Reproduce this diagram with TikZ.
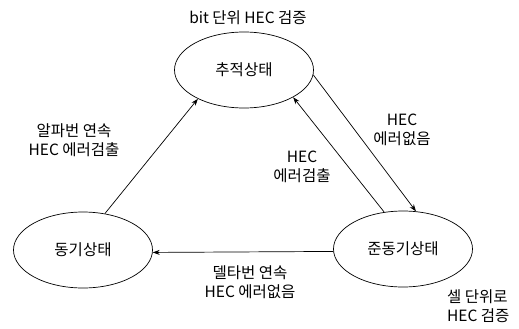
\documentclass[tikz,border=0pt]{standalone}
\usepackage{fontspec}
\setmainfont{Noto Sans CJK KR}
\usetikzlibrary{shapes.geometric,arrows.meta}
\begin{document}
\begin{tikzpicture}[x=1pt,y=-1pt,
  st/.style={draw, ellipse, line width=0.7pt, minimum width=139pt, minimum height=76pt, inner sep=0pt, font=\fontsize{15.5}{18}\selectfont},
  lbl/.style={font=\fontsize{15.5}{18.5}\selectfont, align=center, inner sep=0pt},
  arr/.style={-{Stealth[length=7pt,width=5pt]}, line width=0.7pt}]
\useasboundingbox (0,0) rectangle (519,329);
\node[st] (T) at (244,70) {추적상태};
\node[st] (L) at (83,250) {동기상태};
\node[st] (R) at (403,249) {준동기상태};
\draw[arr] (L.59) -- (T.212);
\draw[arr] (R.117) -- (T.331);
\draw[arr] (T.356) -- (R.71);
\draw[arr] (R.182) -- (L.358);
\node[lbl] (t0) at (248,18) {bit 단위 HEC 검증};
\node[lbl] (t1) at (74,140) {알파번 연속\\HEC 에러검출};
\node[lbl] (t2) at (402,130) {HEC\\에러없음};
\node[lbl] (t3) at (302,167) {HEC\\에러검출};
\node[lbl] (t4) at (250,282) {델타번 연속\\HEC 에러없음};
\node[lbl, align=left, anchor=west] (t5) at (447,306) {셀 단위로\\HEC 검증};
\end{tikzpicture}
\end{document}
